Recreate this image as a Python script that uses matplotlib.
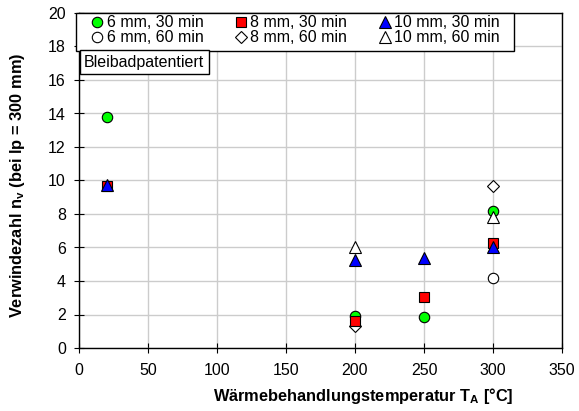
import numpy as np
import matplotlib
matplotlib.use("Agg")
import matplotlib.pyplot as plt
from matplotlib.patches import Rectangle

plt.rcParams['font.family'] = ['Liberation Sans', 'DejaVu Sans']
plt.rcParams['mathtext.fontset'] = 'custom'
plt.rcParams['mathtext.bf'] = 'Liberation Sans:bold'
plt.rcParams['mathtext.rm'] = 'Liberation Sans'

# Verwindezahl je Wärmebehandlungstemperatur
x_6_30 = [20, 200, 250, 300]
y_6_30 = [13.8, 1.9, 1.85, 8.2]
x_8_30 = [20, 200, 250, 300]
y_8_30 = [9.65, 1.6, 3.05, 6.25]
x_10_30 = [20, 200, 250, 300]
y_10_30 = [9.75, 5.25, 5.35, 6.0]
x_6_60 = [300]
y_6_60 = [4.15]
x_8_60 = [200, 300]
y_8_60 = [1.3, 9.7]
x_10_60 = [200, 300]
y_10_60 = [6.0, 7.8]

fs = 11.5
fig = plt.figure(figsize=(5.79, 4.11), dpi=100)
ax = fig.add_axes([79/579, 1 - 348/411, (562 - 79)/579, (348 - 13)/411])

mk = dict(linestyle='none', markeredgecolor='black', markeredgewidth=0.8)
h6_60, = ax.plot(x_6_60, y_6_60, marker='o', ms=7.5, mfc='white', label='6 mm, 60 min', **mk)
h8_60, = ax.plot(x_8_60, y_8_60, marker='D', ms=6.5, mfc='white', label='8 mm, 60 min', **mk)
h6_30, = ax.plot(x_6_30, y_6_30, marker='o', ms=7.5, mfc='#00ff00', label='6 mm, 30 min', **mk)
h10_60, = ax.plot(x_10_60, y_10_60, marker='^', ms=8.5, mfc='white', label='10 mm, 60 min', **mk)
h8_30, = ax.plot(x_8_30, y_8_30, marker='s', ms=6.5, mfc='#ff0000', label='8 mm, 30 min', **mk)
h10_30, = ax.plot(x_10_30, y_10_30, marker='^', ms=8, mfc='#0000ff', label='10 mm, 30 min', **mk)

ax.set_xlim(0, 350)
ax.set_ylim(0, 20)
ax.set_xticks(np.arange(0, 351, 50))
ax.set_yticks(np.arange(0, 21, 2))
ax.grid(True, color='#cccccc', linewidth=1.0)
ax.set_axisbelow(True)
ax.tick_params(direction='inout', length=7, width=0.8, labelsize=fs)
ax.tick_params(axis='x', pad=7)
ax.tick_params(axis='y', pad=6)
for s in ax.spines.values():
    s.set_linewidth(1.0)

ax.set_xlabel(r'Wärmebehandlungstemperatur T$_\mathbf{A}$ [°C]', fontsize=11.8, fontweight='bold')
ax.set_ylabel(r'Verwindezahl n$_\mathbf{v}$ (bei lp = 300 mm)', fontsize=11.8, fontweight='bold')
ax.xaxis.set_label_coords(0.588, -0.112)
ax.yaxis.set_label_coords(-0.108, 0.484)

# Legendenrahmen separat, Legende ohne eigenen Rahmen
ax.add_patch(Rectangle((-0.0062, 0.8866), 0.9068, 0.1134, transform=ax.transAxes,
                       facecolor='white', edgecolor='black', linewidth=1.0,
                       clip_on=False, zorder=4))
handles = [h6_30, h6_60, h8_30, h8_60, h10_30, h10_60]
leg = ax.legend(handles=handles, ncol=3, loc='upper left', bbox_to_anchor=(0.0257, 0.993),
                borderaxespad=0, fontsize=fs, frameon=False,
                handlelength=0.7, handletextpad=0.25,
                columnspacing=2.0, labelspacing=0.0, borderpad=0)
leg.set_zorder(5)

ax.text(0.0104, 0.853, 'Bleibadpatentiert', transform=ax.transAxes, fontsize=fs,
        va='center', ha='left', zorder=6,
        bbox=dict(boxstyle='square,pad=0.28', facecolor='white', edgecolor='black', linewidth=1.0))

fig.savefig('out.png', dpi=100)
